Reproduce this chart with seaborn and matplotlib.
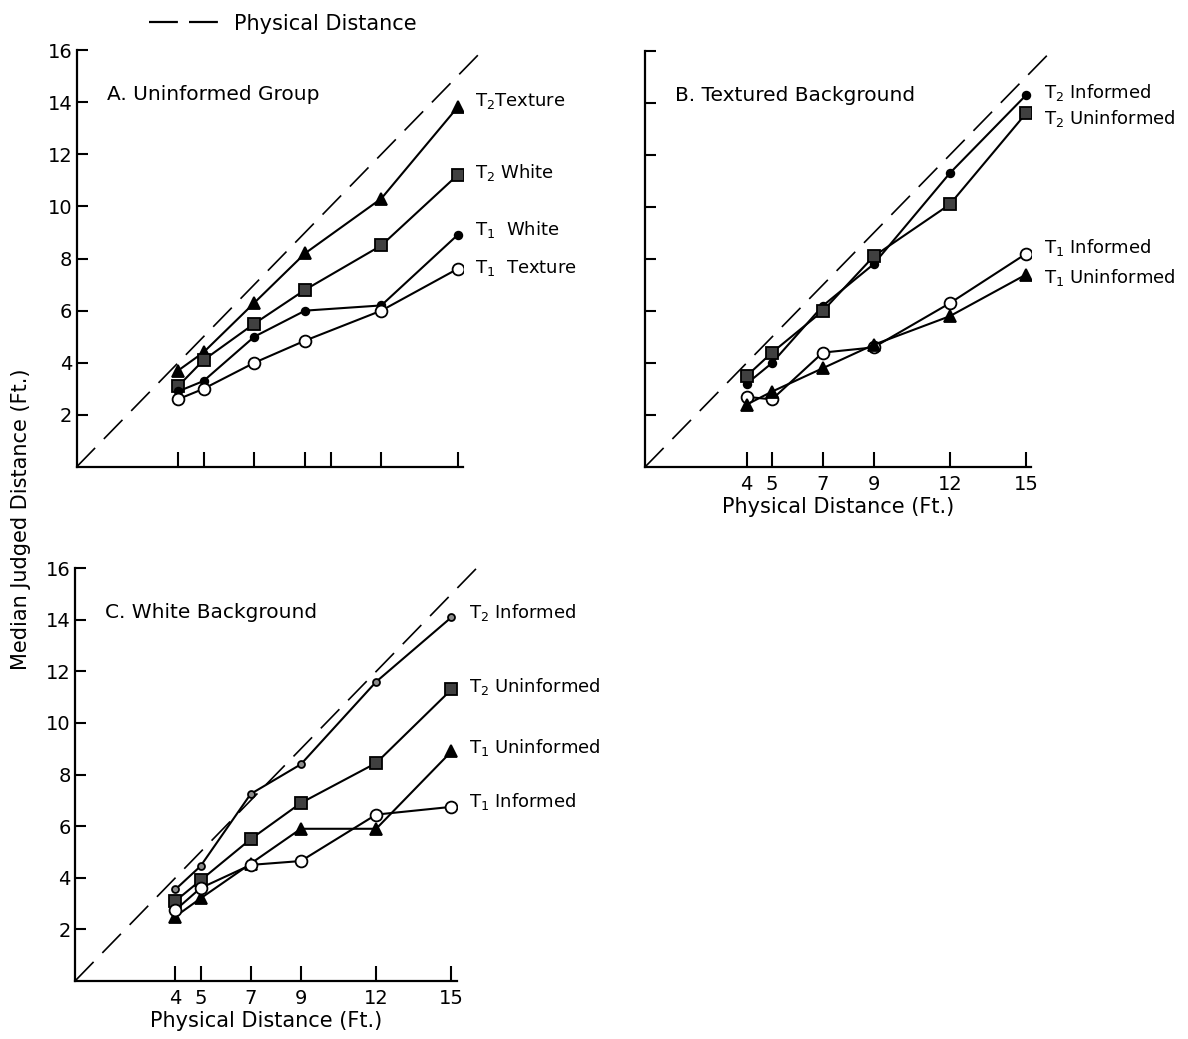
import numpy as np
import pandas as pd
import matplotlib
matplotlib.use("Agg")
import matplotlib.pyplot as plt
import seaborn as sns
from matplotlib.lines import Line2D

# ---------------- data ----------------
distances = [4, 5, 7, 9, 12, 15]
diag = [0, 16]

# Panel A: Uninformed group
a_t2_texture = [3.7, 4.4, 6.3, 8.2, 10.3, 13.8]
a_t2_white = [3.1, 4.1, 5.5, 6.8, 8.5, 11.2]
a_t1_white = [2.9, 3.3, 5.0, 6.0, 6.2, 8.9]
a_t1_texture = [2.6, 3.0, 4.0, 4.85, 6.0, 7.6]

# Panel B: Textured background
b_t2_informed = [3.2, 4.0, 6.2, 7.8, 11.3, 14.3]
b_t2_uninformed = [3.5, 4.4, 6.0, 8.1, 10.1, 13.6]
b_t1_informed = [2.7, 2.6, 4.4, 4.6, 6.3, 8.2]
b_t1_uninformed = [2.4, 2.9, 3.8, 4.7, 5.8, 7.4]

# Panel C: White background
c_t2_informed = [3.55, 4.45, 7.25, 8.4, 11.6, 14.1]
c_t2_uninformed = [3.1, 3.9, 5.5, 6.9, 8.45, 11.3]
c_t1_uninformed = [2.5, 3.2, 4.55, 5.9, 5.9, 8.9]
c_t1_informed = [2.75, 3.6, 4.5, 4.65, 6.45, 6.75]

y_ticks = [2, 4, 6, 8, 10, 12, 14, 16]
a_x_ticks = [4, 5, 7, 9, 10, 12, 15]
x_ticks = [4, 5, 7, 9, 12, 15]

# ---------------- style ----------------
sns.set_theme(style="ticks")
plt.rcParams["font.family"] = ["DejaVu Sans"]
plt.rcParams["axes.linewidth"] = 1.6
for key in ["text.color", "axes.labelcolor", "xtick.color", "ytick.color",
            "axes.edgecolor"]:
    plt.rcParams[key] = "black"

W, H = 11.88, 10.39
fig = plt.figure(figsize=(W, H), dpi=100)

def axes_px(x0, y0, xunit, yunit):
    left = x0 / 1188
    bottom = (1039 - y0) / 1039
    width = 15.2 * xunit / 1188
    height = 16 * yunit / 1039
    return fig.add_axes([left, bottom, width, height])

axA = axes_px(76.5, 467, 25.4, 26.06)
axB = axes_px(645, 467, 25.4, 26.0)
axC = axes_px(75, 981, 25.1, 25.8)

MARK = {
    "tri": dict(marker="^", markersize=8, markerfacecolor="black"),
    "sq": dict(marker="s", markersize=8, markerfacecolor="0.25"),
    "dot": dict(marker="o", markersize=5.5, markerfacecolor="black"),
    "sdot": dict(marker="o", markersize=5, markerfacecolor="0.55"),
    "open": dict(marker="o", markersize=8.5, markerfacecolor="white"),
}

def draw_series(ax, vals, kind, label, dy):
    df = pd.DataFrame({"x": distances, "y": vals})
    sns.lineplot(data=df, x="x", y="y", ax=ax, color="black", lw=1.5,
                 markeredgecolor="black", markeredgewidth=1.3, legend=False,
                 **MARK[kind])
    ax.text(15.7, vals[-1] + dy, label, fontsize=13, va="center", ha="left",
            clip_on=False)

def setup(ax, title):
    diag_df = pd.DataFrame({"x": diag, "y": diag})
    sns.lineplot(data=diag_df, x="x", y="y", ax=ax, color="black", lw=1.2,
                 legend=False)
    ax.lines[-1].set_dashes((16, 7.5))
    ax.lines[-1].set_clip_on(False)
    ax.text(1.2, 14.3, title, fontsize=14.5, ha="left", va="center")

def finish(ax, xticks, xlabels, ylabels):
    ax.set_xlim(0, 15.2)
    ax.set_ylim(0, 16)
    ax.set_xticks(xticks)
    ax.set_yticks(y_ticks)
    if xlabels:
        ax.set_xticklabels([str(t) for t in xticks], fontsize=14)
        ax.set_xlabel("Physical Distance (Ft.)", fontsize=15, labelpad=2)
    else:
        ax.set_xticklabels([])
        ax.set_xlabel("")
    if ylabels:
        ax.set_yticklabels([str(t) for t in y_ticks], fontsize=14)
    else:
        ax.set_yticklabels([])
    ax.set_ylabel("")
    ax.tick_params(axis="x", direction="in", length=11, width=1.5, pad=6)
    ax.tick_params(axis="y", direction="in", length=8, width=1.5, pad=3)
    sns.despine(ax=ax)

setup(axA, "A. Uninformed Group")
draw_series(axA, a_t2_texture, "tri", "T$_2$Texture", 0.25)
draw_series(axA, a_t2_white, "sq", "T$_2$ White", 0.1)
draw_series(axA, a_t1_white, "dot", "T$_1$  White", 0.2)
draw_series(axA, a_t1_texture, "open", "T$_1$  Texture", 0.05)
finish(axA, a_x_ticks, False, True)

setup(axB, "B. Textured Background")
draw_series(axB, b_t2_informed, "dot", "T$_2$ Informed", 0.1)
draw_series(axB, b_t2_uninformed, "sq", "T$_2$ Uninformed", -0.2)
draw_series(axB, b_t1_informed, "open", "T$_1$ Informed", 0.25)
draw_series(axB, b_t1_uninformed, "tri", "T$_1$ Uninformed", -0.1)
finish(axB, x_ticks, True, False)

setup(axC, "C. White Background")
draw_series(axC, c_t2_informed, "sdot", "T$_2$ Informed", 0.2)
draw_series(axC, c_t2_uninformed, "sq", "T$_2$ Uninformed", 0.1)
draw_series(axC, c_t1_uninformed, "tri", "T$_1$ Uninformed", 0.15)
draw_series(axC, c_t1_informed, "open", "T$_1$ Informed", 0.2)
finish(axC, x_ticks, True, True)

fig.text(0.018, 0.5, "Median Judged Distance (Ft.)", rotation=90,
         fontsize=15, ha="center", va="center")

handle = Line2D([], [], color="black", lw=1.6, dashes=(13, 5))
fig.legend([handle], ["Physical Distance"], loc="upper left",
           bbox_to_anchor=(0.11, 1.005), frameon=False, fontsize=15,
           handlelength=3.7, handletextpad=0.35)

fig.savefig("out.png", dpi=100)
